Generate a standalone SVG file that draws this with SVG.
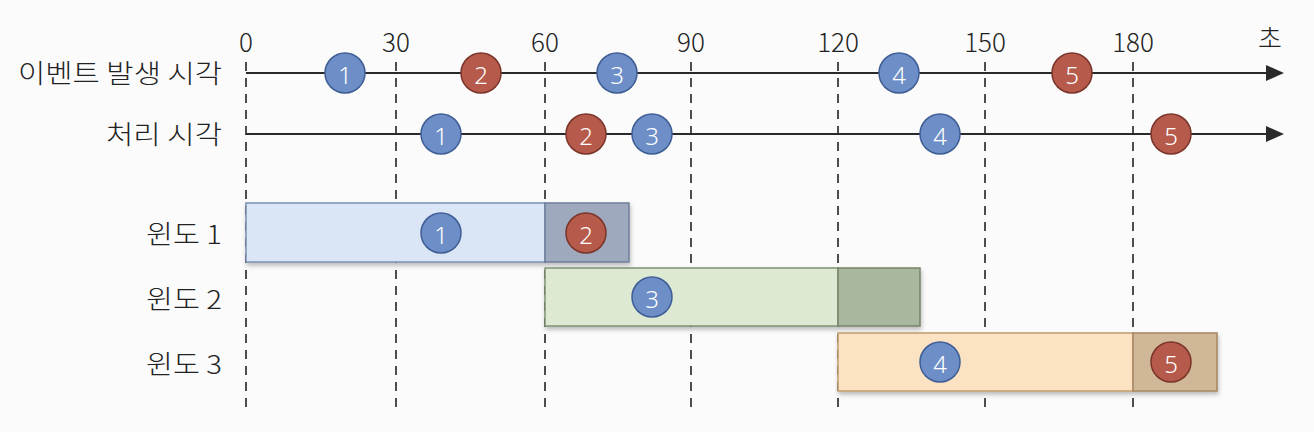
<svg xmlns="http://www.w3.org/2000/svg" width="1314" height="432" viewBox="0 0 1314 432">
<style>
.lbl{font-family:"Noto Sans CJK KR","Noto Sans",sans-serif;font-size:26px;font-weight:300;fill:#222;text-anchor:end}
.tick{font-family:"Noto Sans CJK KR","Noto Sans",sans-serif;font-size:26px;font-weight:300;fill:#222;text-anchor:middle}
.num{font-family:"Noto Sans","Noto Sans CJK KR",sans-serif;font-size:24px;font-weight:300;fill:#fff;text-anchor:middle;dominant-baseline:central}
.blue{fill:#6d8ec6;stroke:#3e5d95;stroke-width:1.5}
.red{fill:#b65a4b;stroke:#7a3429;stroke-width:1.5}
.axis{stroke:#2a2a2a;stroke-width:2;fill:none}
.dash{stroke:#222;stroke-width:1.6;stroke-dasharray:9 7;fill:none}
</style>
<defs>
<filter id="sh" x="-5%" y="-20%" width="110%" height="150%">
<feDropShadow dx="1" dy="3" stdDeviation="2" flood-color="#000" flood-opacity="0.25"/>
</filter>
</defs>
<rect x="0" y="0" width="1314" height="432" fill="#fbfbfb"/>

<g id="grid">
<line class="dash" x1="246" y1="62" x2="246" y2="412"/>
<line class="dash" x1="396" y1="62" x2="396" y2="410"/>
<line class="dash" x1="545" y1="62" x2="545" y2="410"/>
<line class="dash" x1="691" y1="62" x2="691" y2="410"/>
<line class="dash" x1="838" y1="62" x2="838" y2="410"/>
<line class="dash" x1="985" y1="62" x2="985" y2="410"/>
<line class="dash" x1="1133" y1="62" x2="1133" y2="410"/>
</g>

<g id="ticks">
<text class="tick" x="246" y="52">0</text>
<text class="tick" x="396" y="52">30</text>
<text class="tick" x="545" y="52">60</text>
<text class="tick" x="691" y="52">90</text>
<text class="tick" x="838" y="52">120</text>
<text class="tick" x="985" y="52">150</text>
<text class="tick" x="1133" y="52">180</text>
<text class="tick" x="1270" y="48">초</text>
</g>

<g id="connectors">
<line class="axis" x1="246" y1="73" x2="1268" y2="73"/>
<polygon points="1266,65 1284,73 1266,81" fill="#2a2a2a"/>
<line class="axis" x1="246" y1="134" x2="1268" y2="134"/>
<polygon points="1266,126 1284,134 1266,142" fill="#2a2a2a"/>
</g>

<g id="labels">
<text class="lbl" x="222" y="83" textLength="204" lengthAdjust="spacingAndGlyphs">이벤트 발생 시각</text>
<text class="lbl" x="222" y="144" textLength="116" lengthAdjust="spacingAndGlyphs">처리 시각</text>
<text class="lbl" x="222" y="244" textLength="76" lengthAdjust="spacingAndGlyphs">윈도 1</text>
<text class="lbl" x="222" y="309" textLength="76" lengthAdjust="spacingAndGlyphs">윈도 2</text>
<text class="lbl" x="222" y="374" textLength="76" lengthAdjust="spacingAndGlyphs">윈도 3</text>
</g>

<g id="window1" filter="url(#sh)">
<rect x="246" y="203" width="299" height="59" fill="#dae5f5" stroke="#7b90b2" stroke-width="1.5"/>
<rect x="545" y="203" width="84" height="59" fill="#9ea9bd" stroke="#6f7f9c" stroke-width="1.5"/>
</g>
<g id="window2" filter="url(#sh)">
<rect x="545" y="268" width="293" height="58" fill="#dee9d4" stroke="#7f9272" stroke-width="1.5"/>
<rect x="838" y="268" width="82" height="58" fill="#a8b79e" stroke="#758569" stroke-width="1.5"/>
</g>
<g id="window3" filter="url(#sh)">
<rect x="838" y="333" width="295" height="58" fill="#fbe2c3" stroke="#c29c6c" stroke-width="1.5"/>
<rect x="1133" y="333" width="84" height="58" fill="#d0b798" stroke="#a78561" stroke-width="1.5"/>
</g>

<g id="event-times">
<g id="e1"><circle class="blue" cx="345" cy="73" r="20"/><text class="num" x="345" y="74">1</text></g>
<g id="e2"><circle class="red" cx="481" cy="73" r="20"/><text class="num" x="481" y="74">2</text></g>
<g id="e3"><circle class="blue" cx="617" cy="73" r="20"/><text class="num" x="617" y="74">3</text></g>
<g id="e4"><circle class="blue" cx="899" cy="73" r="20"/><text class="num" x="899" y="74">4</text></g>
<g id="e5"><circle class="red" cx="1072" cy="73" r="20"/><text class="num" x="1072" y="74">5</text></g>
</g>

<g id="process-times">
<g id="p1"><circle class="blue" cx="441" cy="134" r="20"/><text class="num" x="441" y="135">1</text></g>
<g id="p2"><circle class="red" cx="586" cy="134" r="20"/><text class="num" x="586" y="135">2</text></g>
<g id="p3"><circle class="blue" cx="652" cy="134" r="20"/><text class="num" x="652" y="135">3</text></g>
<g id="p4"><circle class="blue" cx="940" cy="134" r="20"/><text class="num" x="940" y="135">4</text></g>
<g id="p5"><circle class="red" cx="1171" cy="134" r="20"/><text class="num" x="1171" y="135">5</text></g>
</g>

<g id="window-events">
<g id="w1"><circle class="blue" cx="441" cy="233" r="20"/><text class="num" x="441" y="234">1</text></g>
<g id="w2"><circle class="red" cx="586" cy="233" r="20"/><text class="num" x="586" y="234">2</text></g>
<g id="w3"><circle class="blue" cx="652" cy="297" r="20"/><text class="num" x="652" y="298">3</text></g>
<g id="w4"><circle class="blue" cx="940" cy="362" r="20"/><text class="num" x="940" y="363">4</text></g>
<g id="w5"><circle class="red" cx="1171" cy="362" r="20"/><text class="num" x="1171" y="363">5</text></g>
</g>
</svg>
